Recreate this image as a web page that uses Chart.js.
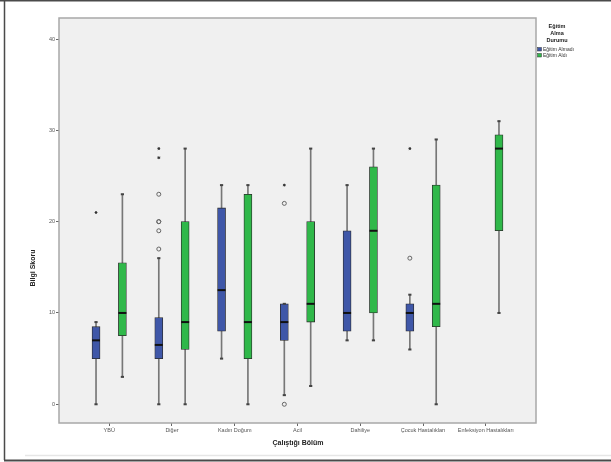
<!DOCTYPE html>
<html>
<head>
<meta charset="utf-8">
<script src="https://cdn.jsdelivr.net/npm/chart.js@4.4.1/dist/chart.umd.min.js"></script>
<style>
  html, body { margin: 0; padding: 0; background: #fff; }
  #c { display: block; }
</style>
</head>
<body>
<canvas id="c" width="611" height="462"></canvas>
<script>
const categories = ['YBÜ', 'Diğer', 'Kadın Doğum', 'Acil', 'Dahiliye', 'Çocuk Hastalıkları', 'Enfeksiyon Hastalıkları'];
const yTicks = [0, 10, 20, 30, 40];
const seriesNames = ['Eğitim Almadı', 'Eğitim Aldı'];

// Eğitim Almadı (blue)
const blueMin = [0, 0, 5, 1, 7, 6, null];
const blueQ1  = [5, 5, 8, 7, 8, 8, null];
const blueMed = [7, 6.5, 12.5, 9, 10, 10, null];
const blueQ3  = [8.5, 9.5, 21.5, 11, 19, 11, null];
const blueMax = [9, 16, 24, 11, 24, 12, null];
// outliers: [category index, value]
const blueCircles = [[1, 23], [1, 20], [1, 20], [1, 19], [1, 17], [3, 22], [3, 0], [5, 16]];
const blueStars = [[0, 21], [1, 28], [1, 27], [3, 24], [5, 28]];

// Eğitim Aldı (green)
const greenMin = [3, 0, 0, 2, 7, 0, 10];
const greenQ1  = [7.5, 6, 5, 9, 10, 8.5, 19];
const greenMed = [10, 9, 9, 11, 19, 11, 28];
const greenQ3  = [15.5, 20, 23, 20, 26, 24, 29.5];
const greenMax = [23, 28, 24, 28, 28, 29, 31];

const BLUE = '#3f57a8';
const GREEN = '#30b84a';
const OFF = 0.21;

function range(a, b, off) {
  const out = [];
  categories.forEach((_, i) => {
    if (a[i] == null) return;
    out.push({ x: i + off, y: [a[i], b[i]] });
  });
  return out;
}
function pts(vals, off) {
  const out = [];
  categories.forEach((_, i) => {
    if (vals[i] == null) return;
    out.push({ x: i + off, y: vals[i] });
  });
  return out;
}
const pairs = (list, off) => list.map(([i, v]) => ({ x: i + off, y: v }));

function boxSet(color, off, mn, q1, md, q3, mx) {
  return [
    { type: 'bar', data: range(mn, mx, off), backgroundColor: '#777', barThickness: 1,
      grouped: false, order: 4, borderWidth: 0 },
    { type: 'bar', data: range(q1, q3, off), backgroundColor: color, borderColor: '#2b2b2b',
      borderWidth: 0.8, borderSkipped: false, barThickness: 8, grouped: false, order: 3 },
    { type: 'scatter', data: pts(mn, off).concat(pts(mx, off)), pointStyle: 'line', radius: 1.6,
      borderWidth: 2, borderColor: '#444', order: 2 },
    { type: 'scatter', data: pts(md, off), pointStyle: 'line', radius: 4,
      borderWidth: 2, borderColor: '#111', order: 2 }
  ];
}

const datasets = [
  ...boxSet(BLUE, -OFF, blueMin, blueQ1, blueMed, blueQ3, blueMax),
  ...boxSet(GREEN, OFF, greenMin, greenQ1, greenMed, greenQ3, greenMax),
  { type: 'scatter', data: pairs(blueCircles, -OFF), pointStyle: 'circle', radius: 2,
    backgroundColor: 'rgba(0,0,0,0)', borderColor: '#666', borderWidth: 1, order: 1 },
  { type: 'scatter', data: pairs(blueStars, -OFF), pointStyle: 'star', radius: 1.4,
    borderColor: '#333', borderWidth: 1, order: 1 }
];

const frame = {
  id: 'frame',
  beforeDraw(chart) {
    const { ctx, chartArea: a } = chart;
    ctx.save();
    ctx.fillStyle = '#fff';
    ctx.fillRect(0, 0, chart.width, chart.height);
    // outer border
    ctx.strokeStyle = '#4a4a4a';
    ctx.lineWidth = 1.5;
    ctx.beginPath();
    ctx.moveTo(0, 0.75); ctx.lineTo(chart.width, 0.75);
    ctx.moveTo(4.5, 0); ctx.lineTo(4.5, 460);
    ctx.stroke();
    ctx.lineWidth = 2;
    ctx.beginPath();
    ctx.moveTo(4, 460.5); ctx.lineTo(chart.width, 460.5);
    ctx.stroke();
    ctx.strokeStyle = '#e6e6e6';
    ctx.lineWidth = 1.5;
    ctx.beginPath();
    ctx.moveTo(25, 455.5); ctx.lineTo(chart.width, 455.5);
    ctx.stroke();
    // plot background
    ctx.fillStyle = '#f0f0f0';
    ctx.fillRect(a.left, a.top, a.right - a.left, a.bottom - a.top);
    ctx.restore();
  },
  afterDraw(chart) {
    const { ctx, chartArea: a } = chart;
    ctx.save();
    ctx.strokeStyle = '#a8a8a8';
    ctx.lineWidth = 1.5;
    ctx.strokeRect(a.left, a.top, a.right - a.left, a.bottom - a.top);

    // axis titles
    ctx.fillStyle = '#222';
    ctx.textAlign = 'center';
    ctx.textBaseline = 'middle';
    ctx.font = 'bold 7px Arial, "Liberation Sans", sans-serif';
    ctx.fillText('Çalıştığı Bölüm', 298, 443);
    ctx.save();
    ctx.translate(33, 268);
    ctx.rotate(-Math.PI / 2);
    ctx.fillText('Bilgi Skoru', 0, 0);
    ctx.restore();

    // legend
    ctx.font = 'bold 5.5px Arial, "Liberation Sans", sans-serif';
    ctx.fillText('Eğitim', 557, 26);
    ctx.fillText('Alma', 557, 33);
    ctx.fillText('Durumu', 557, 40);
    ctx.textAlign = 'left';
    ctx.font = '5px Arial, "Liberation Sans", sans-serif';
    [BLUE, GREEN].forEach((c, k) => {
      const y = 48 + k * 6;
      ctx.fillStyle = c;
      ctx.fillRect(537.5, y - 0.5, 4, 3.5);
      ctx.strokeStyle = '#333';
      ctx.lineWidth = 0.5;
      ctx.strokeRect(537.5, y - 0.5, 4, 3.5);
      ctx.fillStyle = '#333';
      ctx.fillText(seriesNames[k], 543, y + 1.3);
    });
    ctx.restore();
  }
};

new Chart(document.getElementById('c').getContext('2d'), {
  type: 'bar',
  data: { datasets },
  options: {
    responsive: false,
    animation: false,
    layout: { padding: { left: 0, right: 75, top: 18, bottom: 0 } },
    plugins: { legend: { display: false }, tooltip: { enabled: false }, title: { display: false } },
    scales: {
      x: {
        type: 'linear',
        min: -0.8,
        max: 6.8,
        offset: false,
        afterFit: (s) => { s.height = 39; },
        afterBuildTicks: (s) => { s.ticks = categories.map((_, i) => ({ value: i })); },
        ticks: {
          autoSkip: false, maxRotation: 0, minRotation: 0, padding: 1.5,
          color: '#555', font: { size: 5.5, family: 'Arial, "Liberation Sans", sans-serif' },
          callback: (v) => categories[v]
        },
        grid: { offset: false, drawOnChartArea: false, drawTicks: true, tickLength: 3, color: '#666' },
        border: { display: false }
      },
      y: {
        type: 'linear',
        min: -2.05,
        max: 42.3,
        afterFit: (s) => { s.width = 59; },
        afterBuildTicks: (s) => { s.ticks = yTicks.map((v) => ({ value: v })); },
        ticks: {
          padding: 1, color: '#555',
          font: { size: 5.5, family: 'Arial, "Liberation Sans", sans-serif' }
        },
        grid: { drawOnChartArea: false, drawTicks: true, tickLength: 3, color: '#666' },
        border: { display: false }
      }
    }
  },
  plugins: [frame]
});
</script>
</body>
</html>
